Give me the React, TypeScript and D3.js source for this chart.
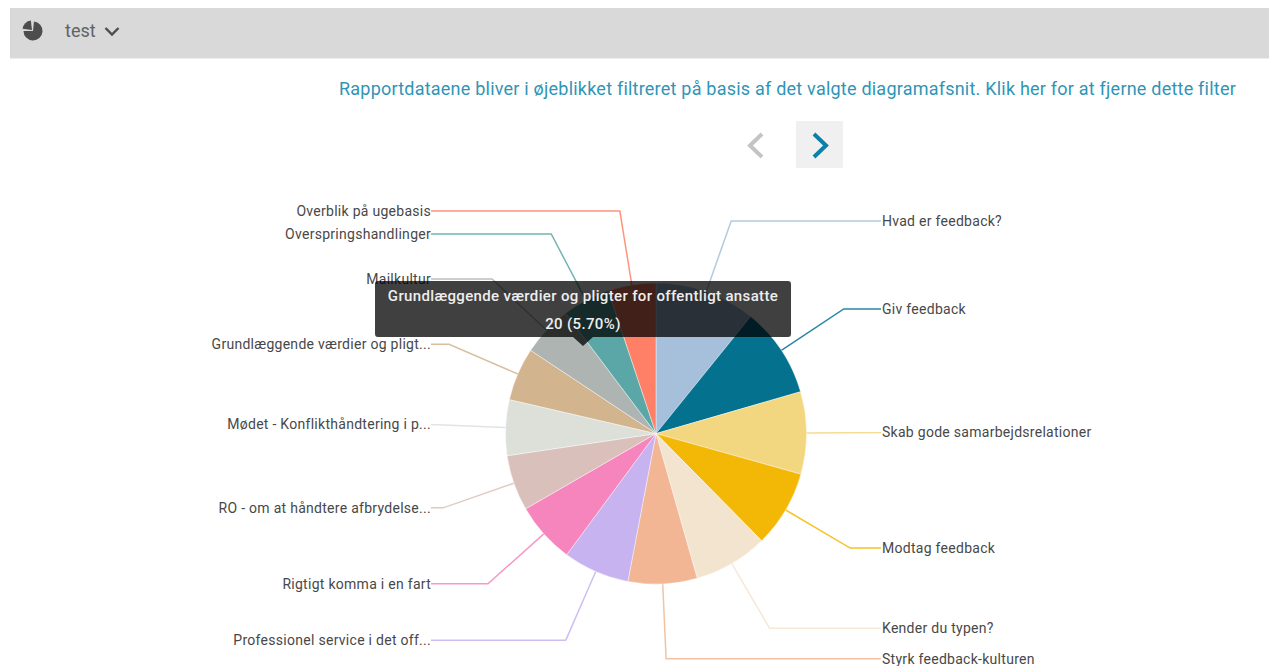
import React from "react";
import * as d3 from "d3";

// Report sections, listed clockwise from twelve o'clock
const categories = [
  "Hvad er feedback?",
  "Giv feedback",
  "Skab gode samarbejdsrelationer",
  "Modtag feedback",
  "Kender du typen?",
  "Styrk feedback-kulturen",
  "Professionel service i det off...",
  "Rigtigt komma i en fart",
  "RO - om at håndtere afbrydelse...",
  "Mødet - Konflikthåndtering i p...",
  "Grundlæggende værdier og pligt...",
  "Mailkultur",
  "Overspringshandlinger",
  "Overblik på ugebasis",
];
const counts = [38, 34, 31, 29, 28, 26, 25, 23, 21, 21, 20, 19, 18, 18];
const sliceColors = [
  "#a6bfda", "#04728f", "#f2d680", "#f3b806", "#f3e4d0", "#f2b695", "#c8b3f1",
  "#f685bd", "#dac0bb", "#dce0d9", "#d2b48f", "#adb4b1", "#5ba7a7", "#ff8066",
];
const tooltipTitle = "Grundlæggende værdier og pligter for offentligt ansatte";
const tooltipIndex = 10;
const filterNotice =
  "Rapportdataene bliver i øjeblikket filtreret på basis af det valgte diagramafsnit. Klik her for at fjerne dette filter";

const W = 1269;
const H = 666;
const CX = 656;
const CY = 433.6;
const R = 150.5;
const ELBOW_R = 225.4;
const COLUMN_OFFSET = 225;
const FONT = "Roboto, sans-serif";

export default function App() {
  const pie = d3.pie<number>().sort(null)(counts);
  const arc = d3.arc<d3.PieArcDatum<number>>().innerRadius(0).outerRadius(R);
  const total = d3.sum(counts);
  const pct = d3.format(".2f")((counts[tooltipIndex] / total) * 100);

  // Leader lines leave the rim at the slice's mid angle, bend on a wider circle,
  // then run horizontally to the label column.
  const polar = (a: number, r: number): [number, number] => [
    CX + r * Math.sin(a),
    CY - r * Math.cos(a),
  ];
  const leader = d3.line();

  // Small icon pie in the header
  const iconPie = d3.pie<number>().sort(null)([3, 1]);
  const iconArc = d3.arc<d3.PieArcDatum<number>>().innerRadius(0).outerRadius(9.5);

  return (
    <svg
      width={W}
      height={H}
      viewBox={`0 0 ${W} ${H}`}
      style={{ position: "absolute", left: 0, top: 0, display: "block", fontFamily: FONT }}
    >
      <rect x={0} y={0} width={W} height={H} fill="#ffffff" />
      <rect x={10} y={8} width={W - 10} height={50.5} fill="#d9d9d9" />
      <g transform="translate(33,31)">
        <path d={iconArc.startAngle(0.1).endAngle(Math.PI * 1.5)(iconPie[0]) || ""} fill="#4d4d4d" />
        <path d={iconArc.startAngle(Math.PI * 1.5 + 0.12).endAngle(Math.PI * 2 - 0.12)(iconPie[1]) || ""} transform="translate(-1,-1)" fill="#4d4d4d" />
      </g>
      <text x={65} y={36.5} fontSize={18} fill="#5f6368">test</text>
      <path d="M105.5,28 L112,34.5 L118.5,28" fill="none" stroke="#4d4d4d" strokeWidth={2.4} />

      <text x={1236} y={94.5} textAnchor="end" fontSize={18} fill="#2f95b7" letterSpacing={0.22}>
        {filterNotice}
      </text>

      <path d="M762,134 L750,145.5 L762,157" fill="none" stroke="#c4c4c4" strokeWidth={4} />
      <rect x={796} y={121} width={47} height={47} rx={1} fill="#f0f0f0" />
      <path d="M814,134 L826,145.5 L814,157" fill="none" stroke="#0b80a8" strokeWidth={4} />

      {pie.map((d, i) => {
        const mid = (d.startAngle + d.endAngle) / 2;
        const [ex, ey] = polar(mid, ELBOW_R);
        const right = mid < Math.PI;
        const endX = right ? CX + COLUMN_OFFSET : CX - COLUMN_OFFSET;
        return (
          <path
            key={categories[i]}
            d={leader([polar(mid, R), [ex, ey], [endX, ey]]) || ""}
            fill="none"
            stroke={sliceColors[i]}
            strokeWidth={1.5}
            strokeOpacity={0.85}
          />
        );
      })}

      <g transform={`translate(${CX},${CY})`}>
        {pie.map((d, i) => (
          <path key={categories[i]} d={arc(d) || ""} fill={sliceColors[i]} stroke="#ffffff" strokeOpacity={0.4} strokeWidth={1} />
        ))}
      </g>

      {pie.map((d, i) => {
        const mid = (d.startAngle + d.endAngle) / 2;
        const [, ey] = polar(mid, ELBOW_R);
        const right = mid < Math.PI;
        return (
          <text
            key={categories[i]}
            x={right ? CX + COLUMN_OFFSET + 1 : CX - COLUMN_OFFSET}
            y={ey}
            dy="0.35em"
            textAnchor={right ? "start" : "end"}
            fontSize={14}
            letterSpacing={0.28}
            fill="#484848"
          >
            {categories[i]}
          </text>
        );
      })}

      <g>
        <path
          d="M378,281 H788 Q791,281 791,284 V334 Q791,337 788,337 H593 L583,346 L573,337 H378 Q375,337 375,334 V284 Q375,281 378,281 Z"
          fill="#000000"
          fillOpacity={0.75}
        />
        <text x={583} y={301} textAnchor="middle" fontSize={15} fontWeight={500} fill="#eeeeee" letterSpacing={0.35}>
          {tooltipTitle}
        </text>
        <text x={583} y={328.5} textAnchor="middle" fontSize={15} fontWeight={500} fill="#eeeeee" letterSpacing={0.35}>
          {`${counts[tooltipIndex]} (${pct}%)`}
        </text>
      </g>
    </svg>
  );
}
